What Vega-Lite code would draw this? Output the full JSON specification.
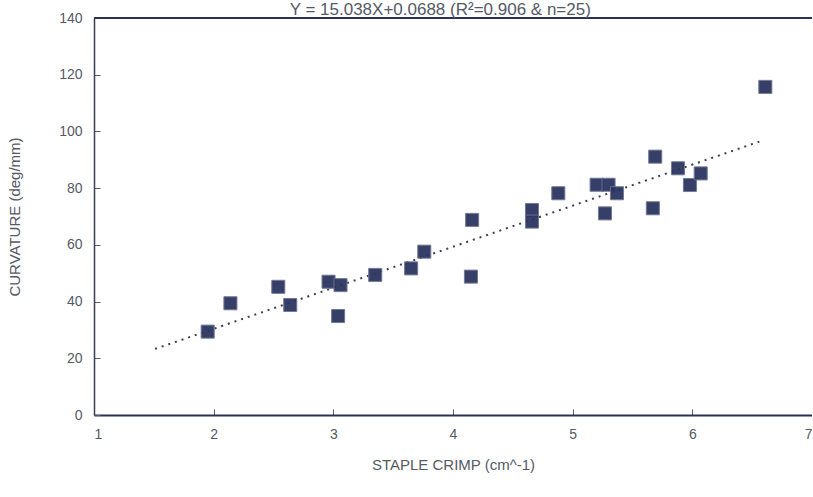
{
  "$schema": "https://vega.github.io/schema/vega-lite/v6.json",
  "width": 718,
  "height": 397,
  "autosize": "none",
  "padding": {"left": 94, "top": 18, "right": 0, "bottom": 82},
  "background": "white",
  "config": {"view": {"stroke": null}, "font": "Liberation Sans"},
  "datasets": {
    "pts": [
      {"crimp": 1.95, "curv": 29.4},
      {"crimp": 2.14, "curv": 39.4},
      {"crimp": 2.54, "curv": 45.2},
      {"crimp": 2.64, "curv": 38.8},
      {"crimp": 2.96, "curv": 47.0},
      {"crimp": 3.06, "curv": 45.8},
      {"crimp": 3.04, "curv": 34.9},
      {"crimp": 3.35, "curv": 49.4},
      {"crimp": 3.65, "curv": 51.7},
      {"crimp": 3.76, "curv": 57.6},
      {"crimp": 4.16, "curv": 68.8},
      {"crimp": 4.15, "curv": 48.8},
      {"crimp": 4.66, "curv": 72.3},
      {"crimp": 4.66, "curv": 68.2},
      {"crimp": 4.88, "curv": 78.2},
      {"crimp": 5.2, "curv": 81.2},
      {"crimp": 5.3, "curv": 81.2},
      {"crimp": 5.37, "curv": 78.2},
      {"crimp": 5.27, "curv": 71.1},
      {"crimp": 5.69, "curv": 91.1},
      {"crimp": 5.67, "curv": 72.9},
      {"crimp": 5.88, "curv": 87.0},
      {"crimp": 5.98, "curv": 81.1},
      {"crimp": 6.07, "curv": 85.2},
      {"crimp": 6.61, "curv": 115.7}
    ],
    "fit": [
      {"crimp": 1.51, "curv": 23.3},
      {"crimp": 6.56, "curv": 96.4}
    ]
  },
  "title": {
    "text": "Y = 15.038X+0.0688 (R²=0.906 & n=25)",
    "anchor": "start",
    "dx": 282,
    "offset": -8,
    "fontSize": 17,
    "fontWeight": "normal",
    "color": "#555a66"
  },
  "layer": [
    {
      "data": {"values": [{"v": 140}]},
      "mark": {"type": "rule", "color": "#2a3058", "strokeWidth": 2},
      "encoding": {"y": {"field": "v", "type": "quantitative", "scale": {"domain": [0, 140]}}}
    },
    {
      "data": {"name": "fit"},
      "mark": {"type": "line", "color": "#3a3f55", "strokeWidth": 2, "strokeDash": [2, 5]},
      "encoding": {
        "x": {"field": "crimp", "type": "quantitative"},
        "y": {"field": "curv", "type": "quantitative"}
      }
    },
    {
      "data": {"name": "pts"},
      "mark": {"type": "square", "filled": true, "size": 170, "color": "#2c3560", "opacity": 0.95, "stroke": "#6b7390", "strokeWidth": 1},
      "encoding": {
        "x": {
          "field": "crimp",
          "type": "quantitative",
          "scale": {"domain": [1, 7], "nice": false},
          "axis": {
            "title": "STAPLE CRIMP (cm^-1)",
            "titleFontSize": 15,
            "titleFontWeight": "normal",
            "titleColor": "#555a66",
            "titlePadding": 16,
            "values": [1, 2, 3, 4, 5, 6, 7],
            "format": "d",
            "labelFontSize": 14,
            "labelColor": "#555a66",
            "labelPadding": 18,
            "tickSize": -6,
            "tickColor": "#555a66",
            "domainColor": "#2a3058",
            "domainWidth": 2,
            "grid": false
          }
        },
        "y": {
          "field": "curv",
          "type": "quantitative",
          "scale": {"domain": [0, 140], "nice": false},
          "axis": {
            "title": "CURVATURE (deg/mm)",
            "titleFontSize": 15,
            "titleFontWeight": "normal",
            "titleColor": "#555a66",
            "titlePadding": 36,
            "values": [0, 20, 40, 60, 80, 100, 120, 140],
            "labelFontSize": 14,
            "labelColor": "#555a66",
            "labelPadding": 18,
            "tickSize": -6,
            "tickColor": "#555a66",
            "domainColor": "#3a3f55",
            "domainWidth": 1.5,
            "grid": false
          }
        }
      }
    }
  ]
}
